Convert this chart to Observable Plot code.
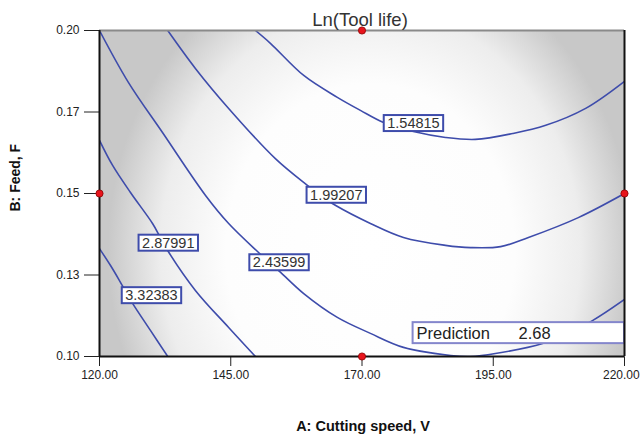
<!DOCTYPE html>
<html><head><meta charset="utf-8">
<script src="https://cdn.jsdelivr.net/npm/d3@7"></script>
<script src="https://cdn.jsdelivr.net/npm/@observablehq/plot@0.6"></script>
<style>
body{margin:0;background:#fff;}
#chart svg{display:block;}
</style>
</head><body><div id="chart"></div>
<script>
// ---- text ----
const title = "Ln(Tool life)";
const xLabel = "A: Cutting speed, V";
const yLabel = "B: Feed, F";

// ---- axes ----
const xTicks = [120, 145, 170, 195, 220];
const xTickLabels = ["120.00", "145.00", "170.00", "195.00", "220.00"];
const yTicks = [0.10, 0.125, 0.15, 0.175, 0.20];
const yTickLabels = ["0.10", "0.13", "0.15", "0.17", "0.20"];

// ---- contour levels (Ln tool life) ----
const levels = ["1.54815", "1.99207", "2.43599", "2.87991", "3.32383"];

const speed_154815 = [149.7, 152.6, 158.9, 165.3, 169.7, 174.1, 179.8, 185.9, 191.6, 198.7, 205.0, 212.6, 220.0];
const feed_154815  = [0.2000, 0.1960, 0.1862, 0.1795, 0.1755, 0.1718, 0.1690, 0.1672, 0.1666, 0.1684, 0.1709, 0.1761, 0.1844];

const speed_199207 = [133.0, 138.3, 144.6, 153.5, 159.6, 162.1, 165.0, 171.6, 177.9, 185.9, 190.7, 196.4, 201.7, 211.2, 220.0];
const feed_199207  = [0.2000, 0.1883, 0.1761, 0.1607, 0.1525, 0.1494, 0.1463, 0.1408, 0.1365, 0.1341, 0.1334, 0.1337, 0.1365, 0.1426, 0.1500];

const speed_243599 = [120.0, 125.5, 132.0, 140.2, 144.6, 150.3, 152.4, 154.5, 158.9, 165.3, 171.6, 177.9, 186.9, 190.7, 195.4, 204.4, 209.1, 213.9, 220.0];
const feed_243599  = [0.2000, 0.1841, 0.1687, 0.1494, 0.1408, 0.1319, 0.1288, 0.1258, 0.1193, 0.1120, 0.1071, 0.1028, 0.1003, 0.1000, 0.1009, 0.1040, 0.1071, 0.1110, 0.1175];

const speed_287991 = [120.0, 122.5, 125.9, 130.1, 131.6, 133.1, 138.3, 144.6, 149.7];
const feed_287991  = [0.1663, 0.1586, 0.1503, 0.1408, 0.1365, 0.1322, 0.1202, 0.1089, 0.1000];

const speed_332383 = [120.0, 122.1, 123.8, 125.0, 126.3, 129.7, 133.0];
const feed_332383  = [0.1331, 0.1279, 0.1233, 0.1199, 0.1163, 0.1080, 0.1000];

// contour label anchors
const labelSpeed = [179.8, 165.1, 154.2, 133.1, 129.9];
const labelFeed  = [0.1715, 0.1495, 0.1288, 0.1348, 0.1187];

// design points
const designSpeed = [120, 170, 220, 170];
const designFeed  = [0.15, 0.20, 0.15, 0.10];

// prediction flag
const predictionText  = ["Prediction", "2.68"];
const predictionSpeed = [180.4, 199.8];
const predictionFeed  = [0.1071, 0.1071];

// ---- build tables ----
const contourSpeeds = [speed_154815, speed_199207, speed_243599, speed_287991, speed_332383];
const contourFeeds  = [feed_154815, feed_199207, feed_243599, feed_287991, feed_332383];
const contourRows = levels.flatMap((lv, k) => contourSpeeds[k].map((v, i) => ({level: lv, V: v, F: contourFeeds[k][i]})));
const labelRows = levels.map((lv, k) => ({text: lv, V: labelSpeed[k], F: labelFeed[k]}));
const designRows = designSpeed.map((v, i) => ({V: v, F: designFeed[i]}));
const predRows = predictionText.map((t, i) => ({text: t, V: predictionSpeed[i], F: predictionFeed[i]}));

const FONT = "'Liberation Sans', Arial, Helvetica, sans-serif";
const xMin = xTicks[0], xMax = xTicks[xTicks.length - 1];
const yMin = yTicks[0], yMax = yTicks[yTicks.length - 1];

const svg = Plot.plot({
  width: 641,
  height: 437,
  marginLeft: 99,
  marginRight: 17,
  marginTop: 30,
  marginBottom: 81,
  style: {fontFamily: FONT, fontSize: "12px", color: "#222", background: "#fff"},
  x: {domain: [xMin, xMax], ticks: xTicks, tickFormat: d => xTickLabels[xTicks.indexOf(d)], tickSize: 10, tickPadding: 4, label: null},
  y: {domain: [yMin, yMax], ticks: yTicks, tickFormat: d => yTickLabels[yTicks.indexOf(d)], tickSize: 15, tickPadding: 5, label: null},
  marks: [
    Plot.frame({fill: "url(#bgGrad)", stroke: "none"}),
    Plot.line(contourRows, {x: "V", y: "F", z: "level", stroke: "#3e4cab", strokeWidth: 1.6, curve: "catmull-rom", clip: true}),
    Plot.text(labelRows, {x: "V", y: "F", text: "text", fontSize: 14.5, fill: "#333"}),
    Plot.text(predRows, {x: "V", y: "F", text: "text", textAnchor: "start", fontSize: 16.5, fill: "#222"}),
    Plot.ruleY([yMax], {stroke: "#8a8a8a", strokeWidth: 2}),
    Plot.ruleY([yMin], {stroke: "#111", strokeWidth: 2}),
    Plot.ruleX([xMin, xMax], {stroke: "#111", strokeWidth: 2}),
    Plot.dot(designRows, {x: "V", y: "F", r: 3.6, fill: "#e8141c", stroke: "#8a0000", strokeWidth: 0.8}),
    Plot.text([title], {frameAnchor: "top", dx: -2, dy: -18, fontSize: 18.5, fill: "#333"}),
    Plot.text([xLabel], {frameAnchor: "bottom", dx: 1, dy: 74, fontSize: 14.5, fontWeight: "bold", fill: "#111"}),
    Plot.text([yLabel], {frameAnchor: "left", rotate: -90, dx: -84, dy: 18, fontSize: 14, fontWeight: "bold", fill: "#111"})
  ]
});
document.getElementById("chart").append(svg);

// gradient background definition
const defs = document.createElementNS("http://www.w3.org/2000/svg", "defs");
defs.innerHTML = `<radialGradient id="bgGrad" cx="0" cy="0" r="1" gradientUnits="objectBoundingBox" gradientTransform="translate(0.516,0.675) scale(0.5,0.93)">
<stop offset="0" stop-color="#ffffff"/><stop offset="0.55" stop-color="#fdfdfd"/><stop offset="0.8" stop-color="#ededed"/><stop offset="1" stop-color="#c8c8c8"/></radialGradient>`;
svg.insertBefore(defs, svg.firstChild);

// boxes behind contour labels
const NS = "http://www.w3.org/2000/svg";
d3.select(svg).selectAll("text").each(function() {
  const t = this.textContent;
  if (levels.includes(t)) {
    const b = this.getBBox();
    const r = document.createElementNS(NS, "rect");
    r.setAttribute("x", b.x - 3.5);
    r.setAttribute("y", b.y);
    r.setAttribute("width", b.width + 7);
    r.setAttribute("height", b.height);
    r.setAttribute("fill", "#fff");
    r.setAttribute("stroke", "#3e4cab");
    r.setAttribute("stroke-width", 2);
    if (this.getAttribute("transform")) r.setAttribute("transform", this.getAttribute("transform"));
    this.parentNode.insertBefore(r, this);
  }
});

// keep the last x tick label inside the picture
(function() {
  const sr = svg.getBoundingClientRect();
  Array.from(svg.querySelectorAll("text")).filter(n => n.textContent === xTickLabels[xTickLabels.length - 1]).forEach(n => {
    const br = n.getBoundingClientRect();
    const over = br.right - sr.left - 640;
    if (over > 0) n.setAttribute("dx", -over);
  });
})();

// prediction box
(function() {
  const texts = Array.from(svg.querySelectorAll("text")).filter(n => n.textContent === predictionText[0]);
  if (!texts.length) return;
  const node = texts[0];
  const sr = svg.getBoundingClientRect();
  const br = node.getBoundingClientRect();
  const xs = svg.scale("x");
  const right = xs.apply(xMax);
  const r = document.createElementNS(NS, "rect");
  r.setAttribute("x", br.left - sr.left - 4);
  r.setAttribute("y", br.top - sr.top - 1.5);
  r.setAttribute("width", right - (br.left - sr.left - 4));
  r.setAttribute("height", br.height + 3);
  r.setAttribute("fill", "#fff");
  r.setAttribute("stroke", "#8486cc");
  r.setAttribute("stroke-width", 2);
  const g = node.parentNode;
  g.parentNode.insertBefore(r, g);
})();
</script>
</body></html>
